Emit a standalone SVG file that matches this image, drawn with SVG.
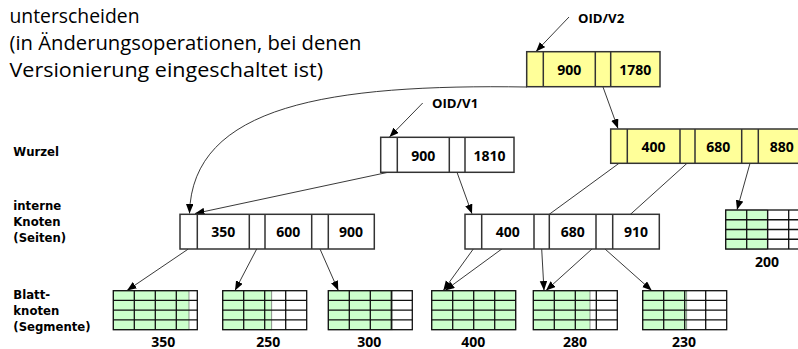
<svg xmlns="http://www.w3.org/2000/svg" xmlns:xlink="http://www.w3.org/1999/xlink" width="798" height="349" viewBox="0 0 798 349">
<style>
.title{font-family:"Open Sans","DejaVu Sans",sans-serif;font-size:19.5px;fill:#000}
.lab{font-family:"Open Sans","DejaVu Sans",sans-serif;font-size:13.2px;font-weight:bold;fill:#000}
.side{font-family:"DejaVu Sans","Open Sans",sans-serif;font-size:11.7px;font-weight:bold;fill:#000}
.num{font-family:"Open Sans","DejaVu Sans",sans-serif;font-size:14px;font-weight:bold;fill:#000;text-anchor:middle}
.box{stroke:#333;stroke-width:1.5;fill:#fff}
.ybox{stroke:#333;stroke-width:1.5;fill:#ffff99}
.div{stroke:#333;stroke-width:1.5}
.con{stroke:#222;stroke-width:0.9;fill:none}
.lw{fill:#fff}
.lg{fill:#ccffcc;stroke:#777;stroke-width:0.8}
.grid{stroke:#111;stroke-width:1.3;fill:none}
</style>
<defs>
<marker id="ah" markerUnits="userSpaceOnUse" markerWidth="10" markerHeight="8" refX="9.5" refY="3.75" orient="auto">
<path d="M0,0 L9.5,3.75 L0,7.5 z" fill="#000"/>
</marker>
<g id="leafgrid">
<rect class="grid" x="0" y="0" width="84" height="39"/>
<path class="grid" d="M21,0V39M42,0V39M63,0V39M0,9.75H84M0,19.5H84M0,29.25H84"/>
</g>
</defs>

<g id="title">
<text class="title" x="9.5" y="22.7" textLength="130" lengthAdjust="spacingAndGlyphs">unterscheiden</text>
<text class="title" x="9.5" y="50" textLength="352" lengthAdjust="spacingAndGlyphs">(in Änderungsoperationen, bei denen</text>
<text class="title" x="9.5" y="76.5" textLength="313.5" lengthAdjust="spacingAndGlyphs">Versionierung eingeschaltet ist)</text>
</g>

<g id="levels">
<text class="side" x="13.3" y="156">Wurzel</text>
<text class="side" x="13.3" y="210">interne</text>
<text class="side" x="13.3" y="226">Knoten</text>
<text class="side" x="13.3" y="242">(Seiten)</text>
<text class="side" x="13.3" y="299">Blatt-</text>
<text class="side" x="13.3" y="315">knoten</text>
<text class="side" x="13.3" y="331">(Segmente)</text>
</g>

<g id="connectors">
<line class="con" x1="569" y1="17" x2="536" y2="51.5" marker-end="url(#ah)"/>
<line class="con" x1="422.7" y1="103" x2="389.5" y2="137" marker-end="url(#ah)"/>
<line class="con" x1="603" y1="87" x2="618" y2="128.5" marker-end="url(#ah)"/>
<path class="con" d="M527,87 C330,84 192,105 189.5,213.5" marker-end="url(#ah)"/>
<line class="con" x1="387" y1="172.5" x2="195" y2="213.5" marker-end="url(#ah)"/>
<line class="con" x1="457" y1="172.3" x2="472" y2="213.8" marker-end="url(#ah)"/>
<line class="con" x1="619" y1="163.3" x2="445" y2="290.5" marker-end="url(#ah)"/>
<line class="con" x1="687" y1="163.3" x2="546" y2="290.5" marker-end="url(#ah)"/>
<line class="con" x1="750" y1="163.3" x2="737" y2="209.8" marker-end="url(#ah)"/>
<line class="con" x1="188.3" y1="249" x2="127" y2="290.5" marker-end="url(#ah)"/>
<line class="con" x1="256.7" y1="249" x2="235" y2="290.5" marker-end="url(#ah)"/>
<line class="con" x1="320" y1="249" x2="338.3" y2="290.5" marker-end="url(#ah)"/>
<line class="con" x1="473.3" y1="249" x2="443.3" y2="290.5" marker-end="url(#ah)"/>
<line class="con" x1="541.7" y1="249" x2="544" y2="290.5" marker-end="url(#ah)"/>
<line class="con" x1="605" y1="249" x2="651.7" y2="290.5" marker-end="url(#ah)"/>
</g>

<g id="oid-v2">
<text class="lab" x="578" y="23.3">OID/V2</text>
</g>
<g id="oid-v1">
<text class="lab" x="432" y="108.3">OID/V1</text>
</g>

<g id="root-v2">
<rect class="ybox" x="526.7" y="51.7" width="133.3" height="35"/>
<path class="div" d="M543.3,51.7V86.7M595.3,51.7V86.7M610.7,51.7V86.7"/>
<text class="num" x="569.3" y="75">900</text>
<text class="num" x="635.3" y="75">1780</text>
</g>

<g id="root-v1">
<rect class="box" x="380.7" y="137.3" width="133.3" height="35"/>
<path class="div" d="M397.3,137.3V172.3M449.3,137.3V172.3M465,137.3V172.3"/>
<text class="num" x="423.3" y="160.5">900</text>
<text class="num" x="489.5" y="160.5">1810</text>
</g>

<g id="inner-v2">
<rect class="ybox" x="610.7" y="129" width="196" height="34.3"/>
<path class="div" d="M627.3,129V163.3M680,129V163.3M695,129V163.3M741.7,129V163.3M758.3,129V163.3"/>
<text class="num" x="653.6" y="152.3">400</text>
<text class="num" x="718.3" y="152.3">680</text>
<text class="num" x="781.7" y="152.3">880</text>
</g>

<g id="inner-1">
<rect class="box" x="180" y="214.3" width="194.3" height="34.7"/>
<path class="div" d="M197.3,214.3V249M249.3,214.3V249M265,214.3V249M311.7,214.3V249M328.3,214.3V249"/>
<text class="num" x="223.3" y="237.3">350</text>
<text class="num" x="288.3" y="237.3">600</text>
<text class="num" x="351" y="237.3">900</text>
</g>

<g id="inner-2">
<rect class="box" x="465" y="214.3" width="194.3" height="34.7"/>
<path class="div" d="M481.7,214.3V249M534,214.3V249M549.3,214.3V249M596,214.3V249M612.7,214.3V249"/>
<text class="num" x="507.8" y="237.3">400</text>
<text class="num" x="572.7" y="237.3">680</text>
<text class="num" x="636" y="237.3">910</text>
</g>

<g id="leaf-350">
<rect class="lw" x="113.3" y="290.7" width="84" height="39"/>
<rect class="lg" x="113.3" y="290.7" width="75.7" height="39"/>
<use xlink:href="#leafgrid" x="113.3" y="290.7"/>
<text class="num" x="163.3" y="346.5">350</text>
</g>
<g id="leaf-250">
<rect class="lw" x="222.7" y="290.7" width="84" height="39"/>
<rect class="lg" x="222.7" y="290.7" width="49" height="39"/>
<use xlink:href="#leafgrid" x="222.7" y="290.7"/>
<text class="num" x="268.3" y="346.5">250</text>
</g>
<g id="leaf-300">
<rect class="lw" x="328.3" y="290.7" width="84" height="39"/>
<rect class="lg" x="328.3" y="290.7" width="64" height="39"/>
<use xlink:href="#leafgrid" x="328.3" y="290.7"/>
<text class="num" x="369.3" y="346.5">300</text>
</g>
<g id="leaf-400">
<rect class="lg" x="431.7" y="290.7" width="84" height="39"/>
<use xlink:href="#leafgrid" x="431.7" y="290.7"/>
<text class="num" x="473.3" y="346.5">400</text>
</g>
<g id="leaf-280">
<rect class="lw" x="533.3" y="290.7" width="84" height="39"/>
<rect class="lg" x="533.3" y="290.7" width="56.7" height="39"/>
<use xlink:href="#leafgrid" x="533.3" y="290.7"/>
<text class="num" x="575" y="346.5">280</text>
</g>
<g id="leaf-230">
<rect class="lw" x="642.7" y="290.7" width="84" height="39"/>
<rect class="lg" x="642.7" y="290.7" width="44" height="39"/>
<use xlink:href="#leafgrid" x="642.7" y="290.7"/>
<text class="num" x="684" y="346.5">230</text>
</g>
<g id="leaf-200">
<rect class="lw" x="725.7" y="210" width="84" height="39.3"/>
<rect class="lg" x="725.7" y="210" width="41.6" height="39.3"/>
<use xlink:href="#leafgrid" x="725.7" y="210"/>
<text class="num" x="767" y="266.5">200</text>
</g>
</svg>
